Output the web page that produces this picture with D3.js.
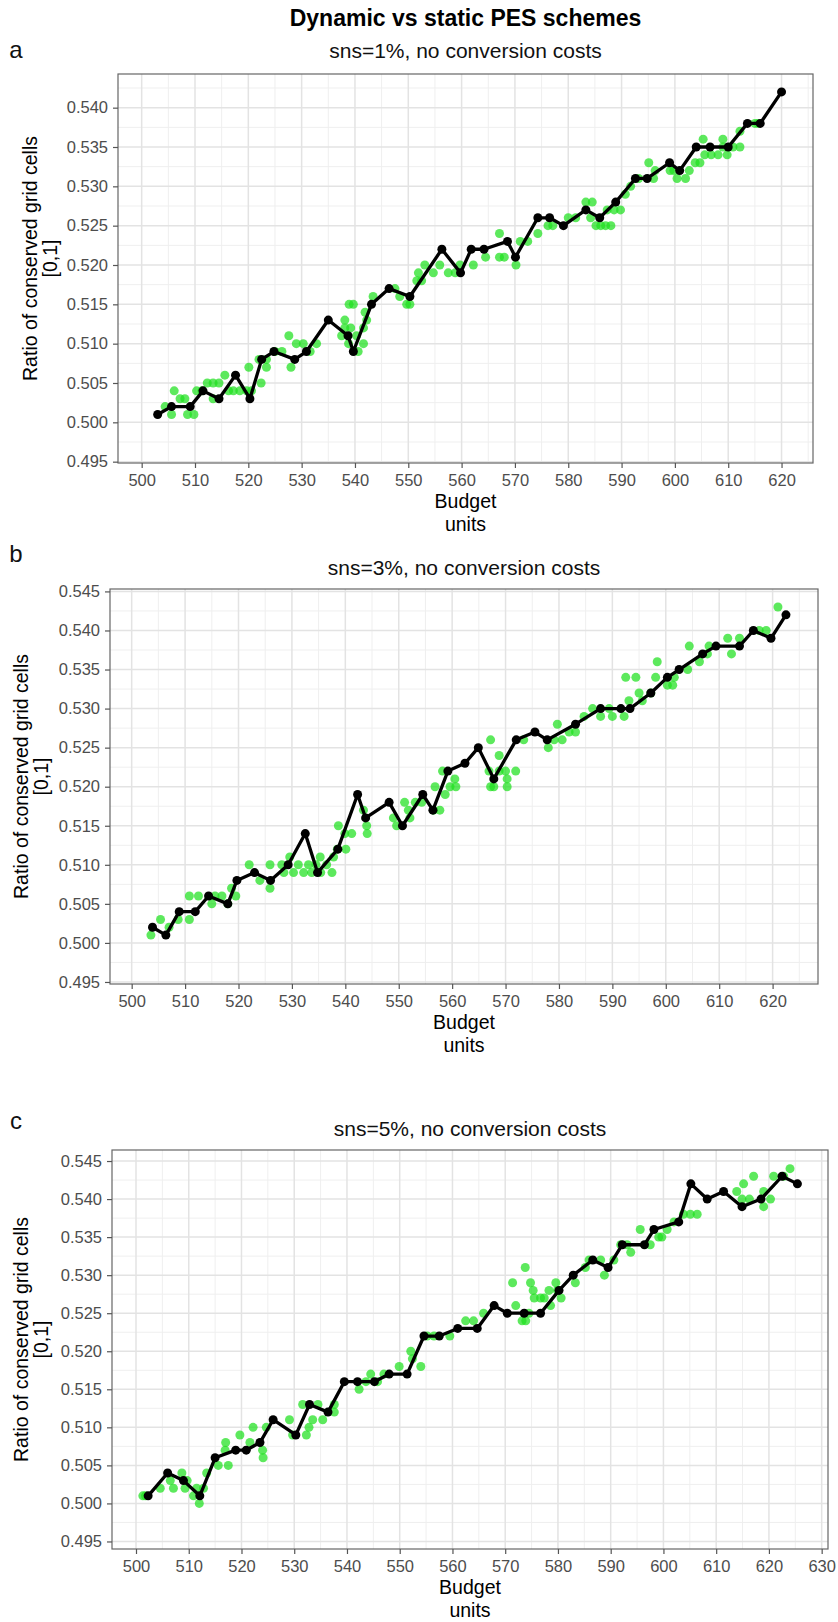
<!DOCTYPE html>
<html>
<head>
<meta charset="utf-8">
<script src="https://cdn.jsdelivr.net/npm/d3@7"></script>
<style>
  body { margin: 0; background: #fff; }
  svg { display: block; font-family: "Liberation Sans", Arial, Helvetica, sans-serif; }
</style>
</head>
<body>
<svg id="chart" width="838" height="1622"></svg>
<script>
// ---- Text ----
const chartTitle = "Dynamic vs static PES schemes";
const panelLetters = ["a", "b", "c"];
const subtitles = [
  "sns=1%, no conversion costs",
  "sns=3%, no conversion costs",
  "sns=5%, no conversion costs"
];
const yTitleLines = ["Ratio of conserved grid cells", "[0,1]"];
const xTitleLines = ["Budget", "units"];

// ---- Tick labels ----
const budgetTicksAB = [500, 510, 520, 530, 540, 550, 560, 570, 580, 590, 600, 610, 620];
const budgetTicksC = [500, 510, 520, 530, 540, 550, 560, 570, 580, 590, 600, 610, 620, 630];
const ratioTicksA = [0.495, 0.500, 0.505, 0.510, 0.515, 0.520, 0.525, 0.530, 0.535, 0.540];
const ratioTicksBC = [0.495, 0.500, 0.505, 0.510, 0.515, 0.520, 0.525, 0.530, 0.535, 0.540, 0.545];

// ---- Series: [budget, ratio] ----
// static scheme (black line with points)
const staticA = [[503,0.501],[505.6,0.502],[509.1,0.502],[511.5,0.504],[514.5,0.503],[517.6,0.506],[520.3,0.503],[522.5,0.508],[524.8,0.509],[528.7,0.508],[530.9,0.509],[535,0.513],[538.7,0.511],[539.7,0.509],[543.1,0.515],[546.4,0.517],[550.3,0.516],[556.3,0.522],[559.8,0.519],[561.8,0.522],[564.2,0.522],[568.6,0.523],[570.1,0.521],[574.3,0.526],[576.5,0.526],[579.1,0.525],[583.3,0.527],[585.9,0.526],[588.9,0.528],[592.6,0.531],[594.8,0.531],[599,0.533],[600.9,0.532],[604,0.535],[606.6,0.535],[610,0.535],[613.6,0.538],[616,0.538],[620,0.542]];
const staticB = [[503.9,0.502],[506.4,0.501],[508.9,0.504],[511.9,0.504],[514.4,0.506],[518,0.505],[519.7,0.508],[523,0.509],[526,0.508],[529.3,0.510],[532.5,0.514],[534.8,0.509],[538.6,0.512],[542.3,0.519],[543.8,0.516],[548.2,0.518],[550.7,0.515],[554.5,0.519],[556.4,0.517],[559.2,0.522],[562.4,0.523],[564.9,0.525],[567.8,0.521],[572,0.526],[575.5,0.527],[577.8,0.526],[583.1,0.528],[587.8,0.530],[591.6,0.530],[593.3,0.530],[597.2,0.532],[600.3,0.534],[602.5,0.535],[606.9,0.537],[609.4,0.538],[613.8,0.538],[616.4,0.540],[619.7,0.539],[622.5,0.542]];
const staticC = [[502.3,0.501],[506,0.504],[509,0.503],[512.1,0.501],[515,0.506],[518.9,0.507],[520.9,0.507],[523.5,0.508],[526,0.511],[530.3,0.509],[532.9,0.513],[536.4,0.512],[539.5,0.516],[542,0.516],[545.2,0.516],[548,0.517],[551.4,0.517],[554.6,0.522],[557.5,0.522],[561,0.523],[564.7,0.523],[567.9,0.526],[570.4,0.525],[573.6,0.525],[576.7,0.525],[580.2,0.528],[582.9,0.530],[586.6,0.532],[589.5,0.531],[592.2,0.534],[596.4,0.534],[598.2,0.536],[602.9,0.537],[605.2,0.542],[608.3,0.540],[611.4,0.541],[614.9,0.539],[618.5,0.540],[622.5,0.543],[625.4,0.542]];

// dynamic scheme (green points)
const dynamicA = [[504.4,0.502],[505.6,0.501],[506.1,0.504],[507.2,0.503],[508.1,0.503],[508.6,0.501],[509.8,0.501],[510.3,0.504],[511.3,0.504],[512.3,0.505],[513.4,0.503],[513.4,0.505],[514.5,0.505],[515.6,0.506],[516.3,0.504],[517.2,0.504],[518.4,0.504],[519.7,0.504],[520.1,0.507],[520.6,0.504],[522.4,0.505],[522,0.508],[523.4,0.507],[523.4,0.508],[525,0.509],[526.3,0.509],[527.6,0.511],[528,0.507],[529,0.510],[530.3,0.510],[531.6,0.509],[532.8,0.510],[537.5,0.511],[538.1,0.513],[538.1,0.512],[538.8,0.510],[538.9,0.515],[539.2,0.512],[539.7,0.515],[540.3,0.511],[540.6,0.509],[541.6,0.510],[541.6,0.512],[541.9,0.514],[542.2,0.513],[543.4,0.516],[547.5,0.517],[548.4,0.516],[549.7,0.515],[550.3,0.515],[551.6,0.518],[551.9,0.519],[552.5,0.518],[553.1,0.520],[554.7,0.519],[555.9,0.520],[557.5,0.519],[558.8,0.519],[559.7,0.520],[562.2,0.520],[564.5,0.521],[567.1,0.524],[567.1,0.521],[568,0.521],[570.2,0.520],[571,0.523],[572.4,0.523],[574.3,0.524],[576.2,0.525],[577.1,0.525],[580,0.526],[581.4,0.526],[583.3,0.528],[584.5,0.528],[584.2,0.526],[585.2,0.525],[586.1,0.525],[587,0.525],[588,0.525],[587.3,0.527],[588.6,0.527],[589.8,0.527],[590.7,0.529],[591.7,0.530],[593.2,0.531],[595.1,0.533],[596,0.531],[596.3,0.532],[599.1,0.532],[599.8,0.532],[600.4,0.531],[602,0.531],[602.7,0.532],[603.8,0.533],[604.7,0.533],[605.3,0.536],[605.6,0.534],[606.8,0.534],[608.1,0.534],[609,0.536],[609,0.535],[609.8,0.534],[610.9,0.535],[612.2,0.535],[612.2,0.537],[615,0.538],[615.6,0.538]];
const dynamicB = [[503.6,0.501],[505.4,0.503],[507,0.502],[508.7,0.503],[510.8,0.506],[510.8,0.503],[512.5,0.506],[515,0.505],[515.6,0.506],[516.9,0.506],[518,0.505],[518.7,0.507],[519.5,0.506],[522,0.510],[524,0.508],[525.9,0.510],[525.9,0.507],[528.1,0.510],[528.5,0.509],[529.6,0.511],[530.3,0.509],[531.2,0.510],[532.2,0.509],[533.1,0.510],[533.7,0.509],[534.5,0.510],[535.3,0.511],[535.4,0.509],[536.5,0.510],[537.5,0.509],[537.8,0.511],[538.5,0.512],[538.7,0.515],[540.1,0.512],[539.9,0.514],[541.2,0.514],[543.4,0.517],[544,0.515],[544.1,0.514],[549,0.516],[549.6,0.515],[551.1,0.518],[551.8,0.517],[552.1,0.516],[553.1,0.518],[554.3,0.518],[556.8,0.520],[556.5,0.517],[557.7,0.517],[558.2,0.522],[558.7,0.519],[559.6,0.520],[560.5,0.521],[560.7,0.520],[566.9,0.522],[567.2,0.526],[568.8,0.524],[567.2,0.520],[567.8,0.520],[568.8,0.522],[570,0.522],[570.3,0.521],[570.3,0.520],[571.9,0.522],[573.4,0.526],[578,0.525],[579.1,0.526],[579.7,0.528],[580.6,0.526],[581.9,0.527],[583.1,0.527],[584.7,0.529],[586.3,0.530],[587.8,0.529],[589.4,0.530],[590,0.529],[592.2,0.529],[592.5,0.534],[594.4,0.534],[593.1,0.531],[595,0.532],[595.6,0.531],[597.2,0.532],[598.4,0.536],[598.1,0.534],[600.3,0.533],[601.3,0.533],[601.6,0.534],[604.1,0.535],[604.4,0.538],[606.3,0.536],[607.8,0.537],[608.1,0.538],[611.6,0.539],[612.3,0.537],[613.8,0.539],[617.5,0.540],[618.8,0.540],[621,0.543]];
const dynamicC = [[501.3,0.501],[501.8,0.501],[504.6,0.502],[506.5,0.503],[507.1,0.502],[508.7,0.504],[509.3,0.502],[509.7,0.503],[510.9,0.501],[511.5,0.502],[512,0.500],[512.8,0.502],[513.4,0.504],[515.6,0.505],[517,0.508],[517.5,0.505],[516.9,0.507],[519.7,0.509],[521.6,0.508],[522.2,0.510],[524,0.507],[524.1,0.506],[524.7,0.510],[529.1,0.511],[529.7,0.509],[531.6,0.513],[532.3,0.509],[532.8,0.510],[533.5,0.511],[534.5,0.513],[535.4,0.511],[537.6,0.513],[537.6,0.512],[542.3,0.515],[543.6,0.516],[544.5,0.517],[545.8,0.516],[547,0.517],[549.9,0.518],[552.1,0.520],[552.4,0.519],[554,0.518],[555.2,0.522],[556.5,0.522],[559.5,0.522],[562.5,0.524],[564,0.524],[565.9,0.525],[571.4,0.529],[572,0.526],[573.2,0.524],[573.8,0.531],[573.9,0.524],[574.5,0.525],[574.8,0.529],[575.3,0.528],[575.5,0.527],[576.7,0.527],[577.4,0.527],[578.3,0.528],[578.6,0.526],[579.6,0.529],[579.9,0.528],[580.6,0.527],[583.3,0.529],[585.2,0.531],[585.9,0.532],[588.1,0.532],[588.8,0.530],[590.6,0.532],[591.9,0.534],[593.1,0.534],[593.8,0.533],[595.6,0.536],[597.5,0.534],[599.1,0.535],[599.7,0.535],[600.7,0.536],[602,0.537],[603.8,0.538],[605.1,0.538],[606.4,0.538],[613.9,0.541],[615.2,0.542],[614.9,0.540],[616.3,0.540],[617.1,0.543],[619,0.541],[619,0.539],[620.3,0.540],[620.9,0.543],[622.8,0.543],[624,0.544]];

// ---- Layout of the three panels (pixel boxes and axis ranges) ----
const layout = [
  { box: { l: 118, r: 813, t: 74,  b: 463 },  xDom: [495.56, 625.9], yDom: [0.49483, 0.54428], letterY: 58,   yTitleX: 30 },
  { box: { l: 110, r: 818, t: 589, b: 984 },  xDom: [495.94, 628.5], yDom: [0.49474, 0.54531], letterY: 562,  yTitleX: 21 },
  { box: { l: 112, r: 828, t: 1150, b: 1549 }, xDom: [495.45, 631.2], yDom: [0.49401, 0.54645], letterY: 1129, yTitleX: 21 }
];

const panels = [
  { stat: staticA, dyn: dynamicA, xTicks: budgetTicksAB, yTicks: ratioTicksA },
  { stat: staticB, dyn: dynamicB, xTicks: budgetTicksAB, yTicks: ratioTicksBC },
  { stat: staticC, dyn: dynamicC, xTicks: budgetTicksC,  yTicks: ratioTicksBC }
];

const svg = d3.select("#chart");
svg.append("rect").attr("width", 838).attr("height", 1622).attr("fill", "#fff");

// overall title, centred over the first panel
svg.append("text")
  .attr("x", (layout[0].box.l + layout[0].box.r) / 2)
  .attr("y", 26)
  .attr("text-anchor", "middle")
  .attr("font-size", 23)
  .attr("font-weight", "bold")
  .attr("fill", "#000")
  .text(chartTitle);

panels.forEach((p, i) => {
  const L = layout[i];
  const B = L.box;
  const x = d3.scaleLinear().domain(L.xDom).range([B.l, B.r]);
  const y = d3.scaleLinear().domain(L.yDom).range([B.b, B.t]);
  const g = svg.append("g");

  // grid: minor lines halfway between major breaks
  const xMinor = d3.range(495, 640, 10).filter(v => v > L.xDom[0] && v < L.xDom[1]);
  const yMinor = d3.range(0.4925, 0.55, 0.005).filter(v => v > L.yDom[0] && v < L.yDom[1]);

  g.append("g").selectAll("line").data(xMinor).join("line")
    .attr("x1", d => x(d)).attr("x2", d => x(d)).attr("y1", B.t).attr("y2", B.b)
    .attr("stroke", "#efefef").attr("stroke-width", 1);
  g.append("g").selectAll("line").data(yMinor).join("line")
    .attr("y1", d => y(d)).attr("y2", d => y(d)).attr("x1", B.l).attr("x2", B.r)
    .attr("stroke", "#efefef").attr("stroke-width", 1);
  g.append("g").selectAll("line").data(p.xTicks).join("line")
    .attr("x1", d => x(d)).attr("x2", d => x(d)).attr("y1", B.t).attr("y2", B.b)
    .attr("stroke", "#e3e3e3").attr("stroke-width", 1.5);
  g.append("g").selectAll("line").data(p.yTicks).join("line")
    .attr("y1", d => y(d)).attr("y2", d => y(d)).attr("x1", B.l).attr("x2", B.r)
    .attr("stroke", "#e3e3e3").attr("stroke-width", 1.5);

  // green points
  g.append("g").selectAll("circle").data(p.dyn).join("circle")
    .attr("cx", d => x(d[0])).attr("cy", d => y(d[1])).attr("r", 4.5)
    .attr("fill", "rgb(30,224,30)").attr("fill-opacity", 0.72);

  // black line with points
  const line = d3.line().x(d => x(d[0])).y(d => y(d[1]));
  g.append("path").datum(p.stat).attr("d", line)
    .attr("fill", "none").attr("stroke", "#000").attr("stroke-width", 3.3)
    .attr("stroke-linejoin", "round");
  g.append("g").selectAll("circle").data(p.stat).join("circle")
    .attr("cx", d => x(d[0])).attr("cy", d => y(d[1])).attr("r", 4.5)
    .attr("fill", "#000");

  // panel border
  g.append("rect").attr("x", B.l).attr("y", B.t)
    .attr("width", B.r - B.l).attr("height", B.b - B.t)
    .attr("fill", "none").attr("stroke", "#666").attr("stroke-width", 1.2);

  // axes
  const xAxis = g.append("g").attr("transform", `translate(0,${B.b})`)
    .call(d3.axisBottom(x).tickValues(p.xTicks).tickSize(5).tickPadding(6).tickFormat(d3.format("d")));
  const yAxis = g.append("g").attr("transform", `translate(${B.l},0)`)
    .call(d3.axisLeft(y).tickValues(p.yTicks).tickSize(5).tickPadding(5).tickFormat(d3.format(".3f")));
  [xAxis, yAxis].forEach(a => {
    a.select(".domain").remove();
    a.selectAll(".tick line").attr("stroke", "#555").attr("stroke-width", 1.2);
    a.selectAll(".tick text").attr("fill", "#4d4d4d").attr("font-size", 16.5)
      .attr("font-family", "'Liberation Sans', Arial, sans-serif");
  });

  // subtitle
  g.append("text").attr("x", (B.l + B.r) / 2).attr("y", B.t - (i === 0 ? 16 : 14))
    .attr("text-anchor", "middle").attr("font-size", 21).attr("fill", "#111")
    .text(subtitles[i]);

  // panel letter
  g.append("text").attr("x", 16).attr("y", L.letterY)
    .attr("text-anchor", "middle").attr("font-size", 24).attr("fill", "#111")
    .text(panelLetters[i]);

  // x-axis title (two lines)
  xTitleLines.forEach((t, k) => {
    g.append("text").attr("x", (B.l + B.r) / 2).attr("y", B.b + 45 + k * 23)
      .attr("text-anchor", "middle").attr("font-size", 19.5).attr("fill", "#000")
      .text(t);
  });

  // y-axis title (two lines, rotated)
  const cy = (B.t + B.b) / 2 - 10;
  yTitleLines.forEach((t, k) => {
    const tx = L.yTitleX + k * 20 + 7;
    g.append("text")
      .attr("transform", `translate(${tx},${cy}) rotate(-90)`)
      .attr("text-anchor", "middle").attr("font-size", 19.5).attr("fill", "#000")
      .text(t);
  });
});
</script>
</body>
</html>
